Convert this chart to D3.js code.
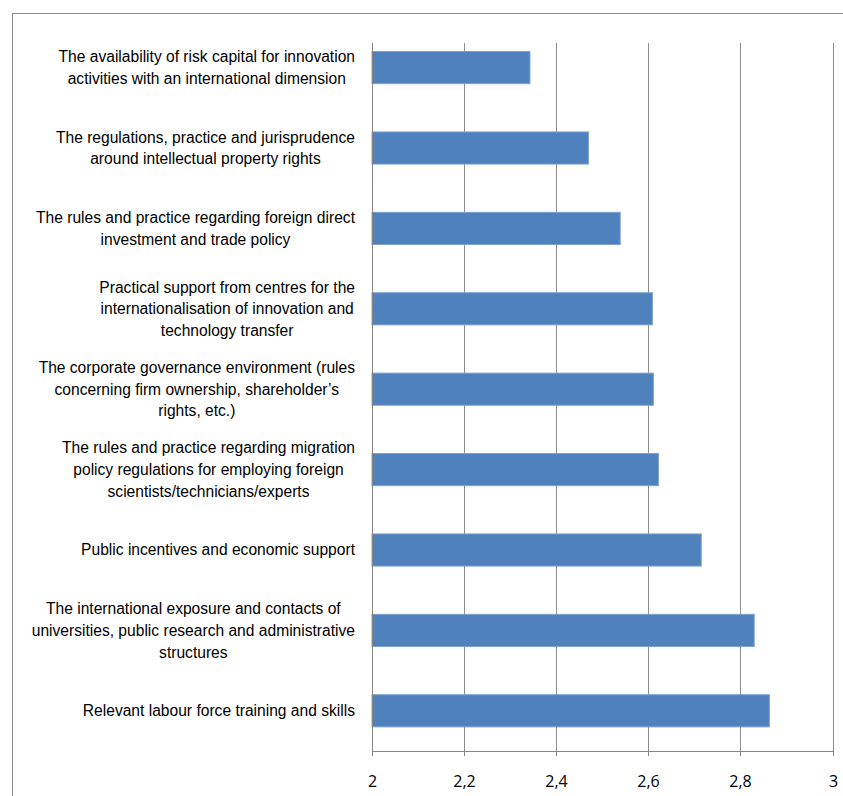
<!DOCTYPE html>
<html>
<head>
<meta charset="utf-8">
<script src="https://cdn.jsdelivr.net/npm/d3@7"></script>
<style>
  body { margin: 0; background: #fff; }
  .cat { font-family: "Liberation Sans Narrow", "Arial Narrow", "Liberation Sans", sans-serif; font-size: 15.6px; fill: #000; }
  .tick-label { font-family: "Open Sans", sans-serif; font-size: 16px; fill: #000; }
</style>
</head>
<body>
<div id="chart"></div>
<script>
// categories, top to bottom (line breaks as wrapped in the original)
const categories = [
  "The availability of risk capital for innovation\nactivities with an international dimension",
  "The regulations, practice and jurisprudence\naround intellectual property rights",
  "The rules and practice regarding foreign direct\ninvestment and trade policy",
  "Practical support from centres for the\ninternationalisation of innovation and\ntechnology transfer",
  "The corporate governance environment (rules\nconcerning firm ownership, shareholder\u2019s\nrights, etc.)",
  "The rules and practice regarding migration\npolicy regulations for employing foreign\nscientists/technicians/experts",
  "Public incentives and economic support",
  "The international exposure and contacts of\nuniversities, public research and administrative\nstructures",
  "Relevant labour force training and skills"
]
const values = [2.343, 2.470, 2.539, 2.609, 2.611, 2.622, 2.715, 2.830, 2.863]
const xTicks = [2, 2.2, 2.4, 2.6, 2.8, 3]
const xTickLabels = ["2", "2,2", "2,4", "2,6", "2,8", "3"]

const width = 843, height = 796
const svg = d3.select("#chart").append("svg")
  .attr("width", width)
  .attr("height", height)

// outer chart frame (runs past the picture on the right and bottom)
svg.append("rect")
  .attr("x", 12.5).attr("y", 13.5)
  .attr("width", 900).attr("height", 900)
  .attr("fill", "none")
  .attr("stroke", "#8a8a8a")

const plot = { left: 372, right: 832.5, top: 43, bottom: 751 }
const band = 80.4

const x = d3.scaleLinear().domain([2, 3]).range([plot.left, plot.right])
const y = d3.scaleBand()
  .domain(categories)
  .range([plot.bottom - band * categories.length, plot.bottom])
  .paddingInner(0.6)
  .paddingOuter(0.3)

// vertical gridlines
svg.append("g").selectAll("line")
  .data(xTicks.slice(1))
  .join("line")
  .attr("x1", d => Math.round(x(d)) + 0.5)
  .attr("x2", d => Math.round(x(d)) + 0.5)
  .attr("y1", plot.top)
  .attr("y2", plot.bottom)
  .attr("stroke", "#8c8c8c")

// bars
svg.append("g").selectAll("rect")
  .data(values)
  .join("rect")
  .attr("x", x(2))
  .attr("y", (d, i) => y(categories[i]))
  .attr("width", d => x(d) - x(2))
  .attr("height", y.bandwidth())
  .attr("fill", "#4f81bd")
  .attr("stroke", "#7fa2d2")
  .attr("stroke-width", 1)

// axes lines
svg.append("line")
  .attr("x1", plot.left + 0.5).attr("x2", plot.left + 0.5)
  .attr("y1", plot.top).attr("y2", plot.bottom + 5)
  .attr("stroke", "#868686")
svg.append("line")
  .attr("x1", plot.left).attr("x2", plot.right + 0.5)
  .attr("y1", plot.bottom + 0.5).attr("y2", plot.bottom + 0.5)
  .attr("stroke", "#868686")

// x ticks and labels
const xt = svg.append("g").selectAll("g")
  .data(xTicks)
  .join("g")
  .attr("transform", d => `translate(${Math.round(x(d)) + 0.5},0)`)
xt.append("line")
  .attr("y1", plot.bottom).attr("y2", plot.bottom + 5)
  .attr("stroke", "#868686")
xt.append("text")
  .attr("class", "tick-label")
  .attr("y", 787)
  .attr("text-anchor", "middle")
  .text((d, i) => xTickLabels[i])

// category labels: block right-aligned to the axis, lines centred within it
const labelRight = 355
const lineH = 21.7
categories.forEach((c, i) => {
  const lines = c.split("\n")
  const g = svg.append("g")
  const texts = lines.map((ln, j) => g.append("text")
    .attr("class", "cat")
    .attr("y", y(c) + y.bandwidth() / 2 + (j - (lines.length - 1) / 2) * lineH)
    .attr("dy", "0.35em")
    .attr("text-anchor", "middle")
    .text(ln))
  const maxW = d3.max(texts, t => t.node().getComputedTextLength())
  texts.forEach(t => t.attr("x", labelRight - maxW / 2))
})
</script>
</body>
</html>
